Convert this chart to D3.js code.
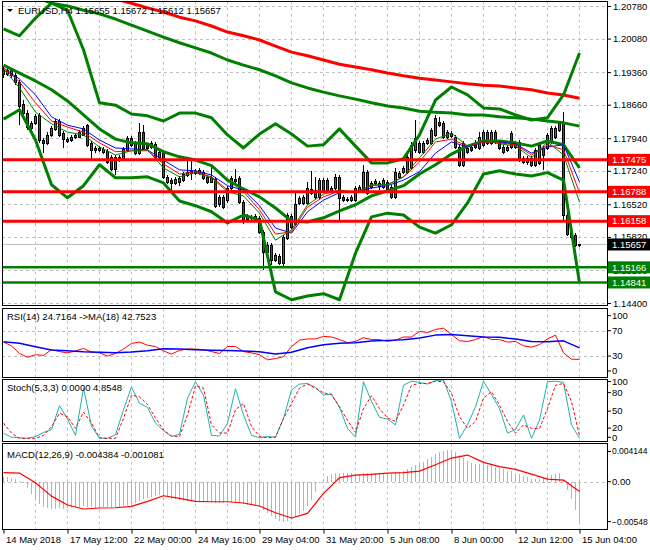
<!DOCTYPE html>
<html lang="en">
<head>
<meta charset="UTF-8">
<title>EURUSD,H4</title>
<style>
  body { margin: 0; background: #fff; }
  svg { display: block; font-family: "Liberation Sans", Arial, sans-serif; font-size: 9.5px; }
</style>
</head>
<body>
<svg id="chart" width="650" height="550"></svg>
<script src="https://cdnjs.cloudflare.com/ajax/libs/d3/7.8.5/d3.min.js"></script>
<script>
// H4 candles, one per bar (bar 0 = first visible bar, bar 144 = 15 Jun 04:00)
const open = [
  1.1941, 1.1932, 1.1941, 1.1930, 1.1915, 1.1868, 1.1848, 1.1816, 1.1827, 1.1844,
  1.1790, 1.1784, 1.1801, 1.1814, 1.1831, 1.1805, 1.1792, 1.1790, 1.1797, 1.1797,
  1.1801, 1.1822, 1.1784, 1.1769, 1.1773, 1.1771, 1.1767, 1.1754, 1.1728, 1.1747,
  1.1752, 1.1769, 1.1795, 1.1784, 1.1762, 1.1807, 1.1780, 1.1775, 1.1782, 1.1754,
  1.1765, 1.1700, 1.1704, 1.1698, 1.1700, 1.1704, 1.1715, 1.1720, 1.1724, 1.1720,
  1.1722, 1.1711, 1.1700, 1.1707, 1.1653, 1.1668, 1.1661, 1.1687, 1.1707, 1.1709,
  1.1657, 1.1620, 1.1625, 1.1623, 1.1623, 1.1593, 1.1550, 1.1565, 1.1532, 1.1541,
  1.1526, 1.1580, 1.1627, 1.1610, 1.1655, 1.1655, 1.1655, 1.1677, 1.1683, 1.1668,
  1.1683, 1.1704, 1.1687, 1.1687, 1.1711, 1.1668, 1.1664, 1.1661, 1.1661, 1.1683,
  1.1683, 1.1722, 1.1689, 1.1698, 1.1698, 1.1689, 1.1700, 1.1689, 1.1668, 1.1711,
  1.1722, 1.1722, 1.1732, 1.1769, 1.1784, 1.1765, 1.1784, 1.1784, 1.1801, 1.1829,
  1.1827, 1.1807, 1.1805, 1.1797, 1.1775, 1.1737, 1.1773, 1.1775, 1.1780, 1.1773,
  1.1780, 1.1807, 1.1784, 1.1807, 1.1786, 1.1775, 1.1775, 1.1805, 1.1784, 1.1786,
  1.1752, 1.1752, 1.1752, 1.1737, 1.1741, 1.1773, 1.1773, 1.1786, 1.1797, 1.1812,
  1.1827, 1.1630, 1.1582, 1.1586, 1.15655
]
const high = [
  1.1947, 1.1945, 1.1945, 1.1934, 1.1919, 1.1876, 1.1855, 1.1831, 1.1846, 1.1848,
  1.1795, 1.1807, 1.1820, 1.1835, 1.1835, 1.1810, 1.1797, 1.1801, 1.1805, 1.1812,
  1.1820, 1.1825, 1.1788, 1.1777, 1.1777, 1.1775, 1.1771, 1.1758, 1.1758, 1.1758,
  1.1775, 1.1799, 1.1799, 1.1788, 1.1827, 1.1822, 1.1784, 1.1788, 1.1786, 1.1769,
  1.1769, 1.1715, 1.1709, 1.1711, 1.1713, 1.1722, 1.1747, 1.1750, 1.1728, 1.1730,
  1.1726, 1.1715, 1.1732, 1.1711, 1.1672, 1.1672, 1.1692, 1.1713, 1.1728, 1.1713,
  1.1661, 1.1631, 1.1629, 1.1631, 1.1627, 1.1597, 1.1571, 1.1569, 1.1547, 1.1545,
  1.1586, 1.1633, 1.1631, 1.1677, 1.1670, 1.1672, 1.1700, 1.1724, 1.1711, 1.1709,
  1.1709, 1.1709, 1.1692, 1.1717, 1.1715, 1.1672, 1.1668, 1.1672, 1.1692, 1.1694,
  1.1737, 1.1726, 1.1702, 1.1707, 1.1702, 1.1709, 1.1704, 1.1694, 1.1730, 1.1724,
  1.1735, 1.1758, 1.1786, 1.1833, 1.1788, 1.1788, 1.1795, 1.1816, 1.1844, 1.1840,
  1.1831, 1.1812, 1.1810, 1.1801, 1.1780, 1.1788, 1.1777, 1.1780, 1.1790, 1.1807,
  1.1812, 1.1812, 1.1812, 1.1812, 1.1790, 1.1780, 1.1780, 1.1810, 1.1788, 1.1790,
  1.1756, 1.1756, 1.1756, 1.1773, 1.1784, 1.1777, 1.1805, 1.1820, 1.1820, 1.1831,
  1.1850, 1.1640, 1.1601, 1.1590, 1.15672
]
const low = [
  1.1923, 1.1928, 1.1923, 1.1908, 1.1822, 1.1838, 1.1812, 1.1810, 1.1822, 1.1784,
  1.1762, 1.1780, 1.1797, 1.1810, 1.1797, 1.1773, 1.1784, 1.1786, 1.1792, 1.1795,
  1.1799, 1.1775, 1.1747, 1.1762, 1.1765, 1.1760, 1.1739, 1.1724, 1.1715, 1.1743,
  1.1747, 1.1765, 1.1775, 1.1758, 1.1758, 1.1769, 1.1769, 1.1771, 1.1750, 1.1750,
  1.1707, 1.1696, 1.1679, 1.1694, 1.1692, 1.1700, 1.1711, 1.1704, 1.1715, 1.1715,
  1.1704, 1.1696, 1.1698, 1.1644, 1.1646, 1.1642, 1.1655, 1.1683, 1.1698, 1.1653,
  1.1610, 1.1616, 1.1618, 1.1620, 1.1588, 1.1511, 1.1541, 1.1522, 1.1528, 1.1522,
  1.1519, 1.1575, 1.1599, 1.1605, 1.1651, 1.1651, 1.1651, 1.1672, 1.1664, 1.1664,
  1.1679, 1.1679, 1.1679, 1.1683, 1.1614, 1.1657, 1.1657, 1.1657, 1.1657, 1.1679,
  1.1679, 1.1672, 1.1685, 1.1694, 1.1683, 1.1685, 1.1679, 1.1664, 1.1664, 1.1707,
  1.1717, 1.1717, 1.1728, 1.1762, 1.1760, 1.1760, 1.1780, 1.1780, 1.1797, 1.1818,
  1.1792, 1.1792, 1.1795, 1.1771, 1.1732, 1.1732, 1.1760, 1.1765, 1.1771, 1.1769,
  1.1775, 1.1780, 1.1780, 1.1782, 1.1769, 1.1760, 1.1765, 1.1771, 1.1771, 1.1743,
  1.1739, 1.1737, 1.1732, 1.1732, 1.1737, 1.1726, 1.1769, 1.1782, 1.1792, 1.1807,
  1.1618, 1.1584, 1.1577, 1.1560, 1.15612
]
const close = [
  1.1932, 1.1941, 1.1930, 1.1915, 1.1863, 1.1848, 1.1818, 1.1827, 1.1842, 1.1790,
  1.1784, 1.1801, 1.1816, 1.1831, 1.1801, 1.1792, 1.1788, 1.1797, 1.1801, 1.1807,
  1.1816, 1.1780, 1.1769, 1.1773, 1.1769, 1.1765, 1.1743, 1.1728, 1.1754, 1.1754,
  1.1771, 1.1795, 1.1780, 1.1762, 1.1807, 1.1773, 1.1773, 1.1784, 1.1754, 1.1765,
  1.1711, 1.1711, 1.1698, 1.1707, 1.1709, 1.1717, 1.1722, 1.1724, 1.1720, 1.1726,
  1.1709, 1.1700, 1.1711, 1.1649, 1.1668, 1.1646, 1.1687, 1.1709, 1.1702, 1.1657,
  1.1618, 1.1627, 1.1623, 1.1627, 1.1593, 1.1550, 1.1565, 1.1532, 1.1543, 1.1526,
  1.1582, 1.1629, 1.1603, 1.1653, 1.1666, 1.1668, 1.1687, 1.1685, 1.1668, 1.1704,
  1.1704, 1.1683, 1.1683, 1.1711, 1.1666, 1.1661, 1.1661, 1.1668, 1.1687, 1.1689,
  1.1722, 1.1677, 1.1698, 1.1702, 1.1692, 1.1704, 1.1683, 1.1668, 1.1722, 1.1720,
  1.1730, 1.1754, 1.1780, 1.1795, 1.1765, 1.1784, 1.1790, 1.1812, 1.1838, 1.1822,
  1.1797, 1.1797, 1.1799, 1.1775, 1.1737, 1.1784, 1.1765, 1.1769, 1.1775, 1.1797,
  1.1807, 1.1784, 1.1807, 1.1786, 1.1773, 1.1765, 1.1769, 1.1775, 1.1775, 1.1747,
  1.1743, 1.1743, 1.1737, 1.1769, 1.1780, 1.1758, 1.1801, 1.1816, 1.1816, 1.1827,
  1.1630, 1.1590, 1.1593, 1.1565, 1.15657
]

// price-window lines, read every 4th bar (bars 0, 4, ... 144)
const maSlow = [1.1945, 1.1921, 1.1887, 1.1840, 1.1822, 1.1814, 1.1790, 1.1773, 1.1771, 1.1769, 1.1747, 1.1726, 1.1724, 1.1715, 1.1692, 1.1683, 1.1649, 1.1601, 1.1590, 1.1636, 1.1661, 1.1677, 1.1679, 1.1687, 1.1692, 1.1704, 1.1722, 1.1762, 1.1786, 1.1775, 1.1786, 1.1786, 1.1782, 1.1762, 1.1775, 1.1780, 1.1700]
const maMid = [1.1945, 1.1915, 1.1870, 1.1831, 1.1818, 1.1807, 1.1784, 1.1765, 1.1767, 1.1767, 1.1739, 1.1717, 1.1722, 1.1711, 1.1683, 1.1679, 1.1640, 1.1588, 1.1593, 1.1646, 1.1668, 1.1681, 1.1677, 1.1692, 1.1694, 1.1711, 1.1743, 1.1786, 1.1792, 1.1777, 1.1786, 1.1784, 1.1780, 1.1758, 1.1780, 1.1769, 1.1677]
const maFast = [1.1943, 1.1902, 1.1850, 1.1825, 1.1807, 1.1801, 1.1775, 1.1758, 1.1767, 1.1769, 1.1730, 1.1711, 1.1720, 1.1709, 1.1679, 1.1670, 1.1633, 1.1575, 1.1597, 1.1651, 1.1674, 1.1683, 1.1677, 1.1694, 1.1694, 1.1711, 1.1752, 1.1792, 1.1805, 1.1777, 1.1790, 1.1782, 1.1777, 1.1752, 1.1786, 1.1758, 1.1657]
const bbUpper = [1.2029, 1.2014, 1.2052, 1.2084, 1.2069, 1.1984, 1.1870, 1.1865, 1.1846, 1.1842, 1.1831, 1.1848, 1.1848, 1.1838, 1.1801, 1.1773, 1.1803, 1.1825, 1.1803, 1.1777, 1.1780, 1.1814, 1.1777, 1.1741, 1.1741, 1.1750, 1.1801, 1.1876, 1.1904, 1.1887, 1.1859, 1.1857, 1.1844, 1.1833, 1.1838, 1.1887, 1.1977]
const bbMiddle = [1.1951, 1.1934, 1.1917, 1.1898, 1.1874, 1.1844, 1.1814, 1.1792, 1.1784, 1.1782, 1.1765, 1.1754, 1.1747, 1.1735, 1.1704, 1.1685, 1.1668, 1.1644, 1.1616, 1.1614, 1.1623, 1.1638, 1.1651, 1.1670, 1.1681, 1.1692, 1.1717, 1.1737, 1.1760, 1.1777, 1.1788, 1.1788, 1.1784, 1.1777, 1.1788, 1.1780, 1.1730]
const bbLower = [1.1835, 1.1855, 1.1790, 1.1694, 1.1666, 1.1692, 1.1737, 1.1709, 1.1709, 1.1711, 1.1698, 1.1659, 1.1649, 1.1636, 1.1612, 1.1629, 1.1618, 1.1464, 1.1447, 1.1455, 1.1460, 1.1447, 1.1547, 1.1625, 1.1633, 1.1629, 1.1603, 1.1590, 1.1608, 1.1655, 1.1717, 1.1724, 1.1717, 1.1713, 1.1720, 1.1704, 1.1483]
const longMaGreen = [null, null, 1.2097, 1.2084, 1.2078, 1.2069, 1.2061, 1.2050, 1.2037, 1.2024, 1.2011, 1.1999, 1.1988, 1.1977, 1.1962, 1.1951, 1.1941, 1.1928, 1.1913, 1.1902, 1.1893, 1.1885, 1.1878, 1.1870, 1.1863, 1.1859, 1.1852, 1.1850, 1.1848, 1.1844, 1.1844, 1.1840, 1.1838, 1.1835, 1.1831, 1.1827, 1.1820]
const longMaRed = [null, null, null, null, null, null, null, 1.2093, 1.2084, 1.2074, 1.2065, 1.2054, 1.2046, 1.2035, 1.2022, 1.2014, 1.2005, 1.1992, 1.1979, 1.1971, 1.1962, 1.1953, 1.1947, 1.1941, 1.1934, 1.1928, 1.1923, 1.1919, 1.1915, 1.1911, 1.1908, 1.1906, 1.1902, 1.1898, 1.1891, 1.1887, 1.1880]

// horizontal levels
const resistance = [1.17475, 1.16788, 1.16158]
const support = [1.15166, 1.14841]
const bid = 1.15657
const priceTicks = [1.2078, 1.2008, 1.1936, 1.1866, 1.1794, 1.1724, 1.1652, 1.1582, 1.1510, 1.1440]

// RSI(14) every 2nd bar, its MA(18) every 4th bar
const rsi = [52, 46, 34, 28, 32, 31, 40, 37, 35, 38, 42, 36, 35, 30, 34, 41, 50, 52, 47, 45, 38, 33, 39, 41, 41, 40, 37, 34, 45, 45, 37, 35, 32, 24, 26, 29, 45, 55, 57, 57, 61, 60, 56, 51, 53, 59, 56, 56, 53, 55, 60, 60, 69, 67, 72, 74, 64, 54, 53, 56, 61, 56, 56, 52, 53, 46, 44, 48, 57, 63, 35, 25, 24.7164]
const rsiMa = [52.6, 50, 44.5, 39.5, 38.4, 36.8, 36, 35.3, 36.3, 38.5, 41.3, 41, 40, 39.2, 38.6, 37.8, 36.7, 33.2, 36, 43, 47.7, 50.3, 51, 53.6, 54.7, 55.6, 58.3, 63, 64, 62, 60.2, 59.5, 56.8, 53, 52.6, 54, 42.7523]

// Stochastic(5,3,3) every 2nd bar
const stochMain = [8.6, 2, 1, 0, 3, 10, 15, 56, 33, 5, 86, 21, 0, 0, 6, 49, 88, 60, 53, 26, 13, 3, 7, 69, 97, 74, 5, 4, 26, 85, 40, 5, 1, 3, 2, 34, 83, 93, 94, 87, 74, 76, 53, 17, 2, 97, 63, 36, 33, 23, 91, 98, 96, 93, 99, 100, 63, 0, 23, 54, 98, 75, 51, 9, 15, 40, 0, 31, 97, 98, 96, 23, 0]
const stochSignal = [26, 9, 0, 0, 0, 5, 20, 43, 37, 17, 45, 26, 1, 0, 0, 34, 74, 71, 58, 35, 14, 4, 3, 40, 90, 86, 23, 9, 9, 49, 60, 20, 3, 1, 2, 34, 60, 86, 93, 86, 78, 75, 54, 31, 10, 51, 73, 51, 35, 29, 57, 91, 94, 94, 98, 97, 77, 37, 17, 29, 69, 80, 57, 29, 9, 23, 17, 17, 51, 91, 94, 63, 4.8548]

// MACD(12,26,9): histogram per bar, signal every 4th bar
const macdHist = [
  0.00055, 0.00048, 0.00037, 0.00026, 0.00011, -0.00018, -0.00073, -0.00136, -0.00202, -0.00245,
  -0.00275, -0.00289, -0.00297, -0.00297, -0.00293, -0.00297, -0.00293, -0.00286, -0.00282, -0.00275,
  -0.00267, -0.00275, -0.00282, -0.00286, -0.00286, -0.00282, -0.00282, -0.00286, -0.00286, -0.00275,
  -0.00267, -0.00260, -0.00245, -0.00231, -0.00209, -0.00194, -0.00180, -0.00165, -0.00158, -0.00150,
  -0.00158, -0.00172, -0.00187, -0.00194, -0.00202, -0.00209, -0.00216, -0.00216, -0.00224, -0.00224,
  -0.00224, -0.00224, -0.00224, -0.00231, -0.00231, -0.00231, -0.00227, -0.00224, -0.00224, -0.00231,
  -0.00245, -0.00253, -0.00260, -0.00267, -0.00282, -0.00311, -0.00348, -0.00377, -0.00407, -0.00429,
  -0.00440, -0.00436, -0.00421, -0.00392, -0.00355, -0.00319, -0.00267, -0.00202, -0.00110, -0.00018,
  0.00026, 0.00062, 0.00084, 0.00092, 0.00099, 0.00092, 0.00092, 0.00092, 0.00084, 0.00084,
  0.00092, 0.00092, 0.00092, 0.00099, 0.00099, 0.00099, 0.00099, 0.00099, 0.00106, 0.00110,
  0.00121, 0.00136, 0.00158, 0.00183, 0.00202, 0.00220, 0.00245, 0.00275, 0.00304, 0.00330,
  0.00341, 0.00348, 0.00348, 0.00330, 0.00293, 0.00256, 0.00231, 0.00209, 0.00194, 0.00194,
  0.00194, 0.00187, 0.00180, 0.00165, 0.00150, 0.00136, 0.00121, 0.00114, 0.00099, 0.00084,
  0.00062, 0.00048, 0.00033, 0.00026, 0.00033, 0.00048, 0.00062, 0.00077, 0.00084, 0.00099,
  0.00026, -0.00092, -0.00194, -0.00311, -0.004384
]
const macdSignal = [0.00099, 0.00095, -0.00011, -0.00158, -0.00256, -0.00300, -0.00289, -0.00286, -0.00271, -0.00216, -0.00154, -0.00183, -0.00216, -0.00220, -0.00220, -0.00234, -0.00267, -0.00341, -0.00399, -0.00348, -0.00128, 0.00044, 0.00073, 0.00081, 0.00095, 0.00099, 0.00117, 0.00187, 0.00260, 0.00293, 0.00213, 0.00165, 0.00136, 0.00084, 0.00029, 0.00018, -0.001081]
const macdMax = 0.004144
const macdMin = -0.00548

// time axis
const tickBars = [0, 16, 32, 48, 64, 80, 96, 112, 128, 144]
const tickTexts = ['14 May 2018', '17 May 12:00', '22 May 00:00', '24 May 16:00', '29 May 04:00',
  '31 May 20:00', '5 Jun 08:00', '8 Jun 00:00', '12 Jun 12:00', '15 Jun 04:00']

const bars = d3.range(open.length)
const every4 = d3.range(0, open.length, 4)
const every2 = d3.range(0, open.length, 2)
const gridBars = d3.range(8, open.length, 8)

const svg = d3.select('#chart')
const left = 2, right = 607

// panels: top and bottom of each window frame
const panels = {
  main: [1.5, 305.5],
  rsi: [308.5, 377.5],
  stoch: [379.5, 441.5],
  macd: [443.5, 529.5]
}

const x = d3.scaleLinear().domain([0, 144]).range([3, 579])
const yMain = d3.scaleLinear().domain([1.144, 1.2078]).range([303, 6])
const yRsi = d3.scaleLinear().domain([0, 100]).range([375, 311.7])
const yStoch = d3.scaleLinear().domain([0, 100]).range([438.3, 380])
const yMacd = d3.scaleLinear().domain([macdMin, macdMax]).range([531.6, 444])

const defs = svg.append('defs')
Object.entries(panels).forEach(([name, [t, b]]) => {
  defs.append('clipPath').attr('id', 'clip-' + name)
    .append('rect').attr('x', left).attr('y', t).attr('width', right - left).attr('height', b - t)
})

function panel(name) {
  return svg.append('g').attr('clip-path', `url(#clip-${name})`)
}

function drawLine(g, yScale, idx, values, color, width, dash) {
  const line = d3.line()
    .defined(d => d[1] != null)
    .x(d => x(d[0]) + 0.5)
    .y(d => yScale(d[1]))
  g.append('path')
    .datum(idx.map((b, k) => [b, values[k]]))
    .attr('fill', 'none')
    .attr('stroke', color)
    .attr('stroke-width', width)
    .attr('stroke-linejoin', 'round')
    .attr('stroke-dasharray', dash || null)
    .attr('d', line)
}

function vGrid(g, name) {
  const [t, b] = panels[name]
  g.selectAll(null).data(gridBars).enter().append('line')
    .attr('x1', d => x(d) + 0.5).attr('x2', d => x(d) + 0.5)
    .attr('y1', t).attr('y2', b)
    .attr('stroke', '#c0c0c0').attr('stroke-dasharray', '3,3')
}

function hGrid(g, yScale, values) {
  g.selectAll(null).data(values).enter().append('line')
    .attr('x1', left).attr('x2', right)
    .attr('y1', d => Math.round(yScale(d)) + 0.5).attr('y2', d => Math.round(yScale(d)) + 0.5)
    .attr('stroke', '#c0c0c0').attr('stroke-dasharray', '3,3')
}

// ---------- main window ----------
const main = panel('main')
vGrid(main, 'main')
hGrid(main, yMain, priceTicks)

main.append('line')
  .attr('x1', left).attr('x2', right)
  .attr('y1', Math.round(yMain(bid)) + 0.5).attr('y2', Math.round(yMain(bid)) + 0.5)
  .attr('stroke', '#c0c0c0')

const candles = main.append('g').attr('shape-rendering', 'crispEdges')
candles.selectAll('line').data(bars).enter().append('line')
  .attr('x1', i => x(i) + 0.5).attr('x2', i => x(i) + 0.5)
  .attr('y1', i => yMain(high[i])).attr('y2', i => yMain(low[i]))
  .attr('stroke', '#000')
candles.selectAll('rect').data(bars).enter().append('rect')
  .attr('x', i => x(i) - 0.5)
  .attr('width', 2)
  .attr('y', i => Math.round(yMain(Math.max(open[i], close[i]))) + 0.5)
  .attr('height', i => Math.max(1, Math.round(yMain(Math.min(open[i], close[i])) - yMain(Math.max(open[i], close[i])))))
  .attr('fill', i => close[i] >= open[i] ? '#00a000' : '#ff0000')
  .attr('stroke', '#000')

drawLine(main, yMain, every4, longMaRed, '#ff0000', 3)
drawLine(main, yMain, every4, longMaGreen, '#008000', 3)
drawLine(main, yMain, every4, bbUpper, '#008000', 3)
drawLine(main, yMain, every4, bbMiddle, '#008000', 3)
drawLine(main, yMain, every4, bbLower, '#008000', 3)
drawLine(main, yMain, every4, maSlow, '#0000ff', 1)
drawLine(main, yMain, every4, maMid, '#ff0000', 1)
drawLine(main, yMain, every4, maFast, '#008000', 1)

main.selectAll(null).data(resistance).enter().append('line')
  .attr('x1', left).attr('x2', right)
  .attr('y1', d => yMain(d)).attr('y2', d => yMain(d))
  .attr('stroke', '#ff0000').attr('stroke-width', 3)
main.selectAll(null).data(support).enter().append('line')
  .attr('x1', left).attr('x2', right)
  .attr('y1', d => yMain(d)).attr('y2', d => yMain(d))
  .attr('stroke', '#008000').attr('stroke-width', 2.5)

// header, drawn over the lines like the terminal does
svg.append('path').attr('d', 'M7,9 L13,9 L10,12 Z').attr('fill', '#000')
svg.append('text').attr('x', 18).attr('y', 14)
  .text(`EURUSD,H4  ${[open[144], high[144], low[144], close[144]].map(d3.format('.5f')).join(' ')}`)

// price axis
const priceAxis = svg.append('g')
  .attr('transform', `translate(${right},0)`)
  .call(d3.axisRight(yMain).tickValues(priceTicks).tickFormat(d3.format('.5f')).tickSize(4).tickPadding(2))
priceAxis.select('.domain').remove()
priceAxis.selectAll('text').attr('font-size', '9.5px').attr('font-family', '"Liberation Sans", Arial, sans-serif').attr('fill', '#000')

function levelTag(value, color) {
  const y = yMain(value)
  svg.append('rect').attr('x', 608).attr('y', y - 6).attr('width', 42).attr('height', 12).attr('fill', color)
  svg.append('text').attr('x', 612).attr('y', y).attr('dy', '0.35em').attr('fill', '#fff')
    .text(d3.format('.5f')(value))
}
resistance.forEach(v => levelTag(v, '#ff0000'))
support.forEach(v => levelTag(v, '#008000'))
levelTag(bid, '#000')

// ---------- RSI ----------
const rsiG = panel('rsi')
vGrid(rsiG, 'rsi')
hGrid(rsiG, yRsi, [70, 30])
drawLine(rsiG, yRsi, every2, rsi, '#ff0000', 1)
drawLine(rsiG, yRsi, every4, rsiMa, '#0000ff', 1.5)
svg.append('text').attr('x', 7).attr('y', 320)
  .text(`RSI(14) ${rsi[rsi.length - 1].toFixed(4)}  ->MA(18) ${rsiMa[rsiMa.length - 1].toFixed(4)}`)

// ---------- Stochastic ----------
const stochG = panel('stoch')
vGrid(stochG, 'stoch')
drawLine(stochG, yStoch, every2, stochMain, '#20b2aa', 1)
drawLine(stochG, yStoch, every2, stochSignal, '#ff0000', 1, '3,2')
svg.append('text').attr('x', 7).attr('y', 391)
  .text(`Stoch(5,3,3) ${stochMain[stochMain.length - 1].toFixed(4)} ${stochSignal[stochSignal.length - 1].toFixed(4)}`)

// ---------- MACD ----------
const macdG = panel('macd')
vGrid(macdG, 'macd')
hGrid(macdG, yMacd, [0])
macdG.append('g').attr('shape-rendering', 'crispEdges')
  .selectAll('line').data(bars).enter().append('line')
  .attr('x1', i => x(i) + 0.5).attr('x2', i => x(i) + 0.5)
  .attr('y1', yMacd(0)).attr('y2', i => yMacd(macdHist[i]))
  .attr('stroke', '#b4b4b4')
drawLine(macdG, yMacd, every4, macdSignal, '#ff0000', 1.2)
svg.append('text').attr('x', 7).attr('y', 458)
  .text(`MACD(12,26,9) ${macdHist[macdHist.length - 1].toFixed(6)} ${macdSignal[macdSignal.length - 1].toFixed(6)}`)

// right-hand labels of the indicator windows; size shrinks the long MACD ones
function sideLabels(items) {
  items.forEach(([text, y, size]) => {
    svg.append('line').attr('x1', right).attr('x2', right + 4).attr('y1', y).attr('y2', y).attr('stroke', '#000')
    svg.append('text').attr('x', 612).attr('y', y).attr('dy', '0.35em')
      .attr('font-size', size || null).text(text)
  })
}
sideLabels([['100', yRsi(100) + 4], ['70', yRsi(70)], ['30', yRsi(30)], ['0', yRsi(0) - 4]])
sideLabels([['100', yStoch(100) + 1.5], ['80', yStoch(80) + 1], ['50', yStoch(50) + 2], ['20', yStoch(20) + 1.5], ['0', yStoch(0) - 1]])
sideLabels([[d3.format('.6f')(macdMax), yMacd(macdMax) + 7.5, '8.5px'], ['0.00', yMacd(0)], [d3.format('.5f')(macdMin), yMacd(macdMin) - 10, '8.5px']])

// frames
Object.values(panels).forEach(([t, b]) => {
  svg.append('rect').attr('x', left + 0.5).attr('y', t).attr('width', right - left).attr('height', b - t)
    .attr('fill', 'none').attr('stroke', '#000')
})

// time axis
const timeAxis = svg.append('g')
  .attr('transform', `translate(0.5,${panels.macd[1]})`)
  .call(d3.axisBottom(x).tickValues(tickBars).tickFormat((d, i) => tickTexts[i]).tickSize(4).tickPadding(3))
timeAxis.select('.domain').remove()
timeAxis.selectAll('text')
  .attr('text-anchor', 'start').attr('dx', 2)
  .attr('font-size', '9.5px').attr('font-family', '"Liberation Sans", Arial, sans-serif').attr('fill', '#000')
</script>
</body>
</html>
